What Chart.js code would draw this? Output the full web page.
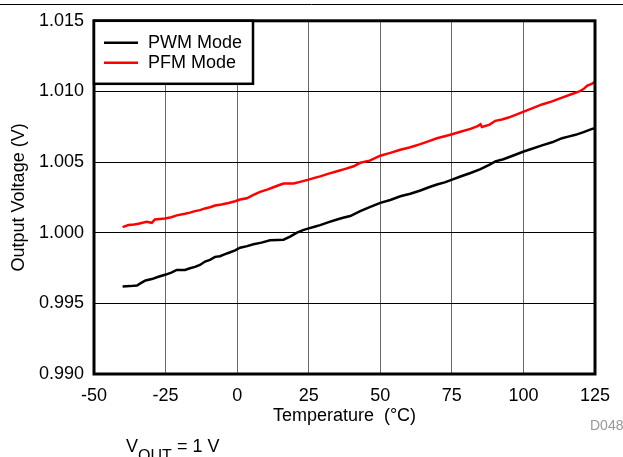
<!DOCTYPE html>
<html>
<head>
<meta charset="utf-8">
<script src="https://cdn.jsdelivr.net/npm/chart.js@4"></script>
<style>
  body { margin: 0; background: #fff; }
  #wrap { position: relative; width: 623px; height: 457px; overflow: hidden; }
</style>
</head>
<body>
<div id="wrap"><canvas id="chart" width="623" height="457"></canvas></div>
<script>
// temperature (°C) / output voltage (V)
const pwmTemp = [-40, -37.5, -35, -33.5, -32, -29.8, -27.5, -25.2, -23, -21.1, -18.2, -16.5, -14.7, -13, -11.2, -9.5, -7.7, -6, -4.2, -2.4, -0.7, 1, 3.5, 5.7, 8.5, 11.5, 14, 16.2, 18.5, 20.9, 23, 25, 27, 29, 32, 34.9, 37, 39.5, 43, 46.3, 50, 53.5, 57, 60.5, 64, 67, 69.8, 72.5, 75.1, 78, 81.5, 85, 88.2, 90.2, 93, 96, 100.1, 103, 106.5, 110, 113.5, 116, 118.2, 121, 124, 125];
const pwmVolt = [0.99620, 0.99622, 0.99626, 0.99645, 0.99662, 0.99672, 0.99688, 0.99702, 0.99718, 0.99737, 0.99737, 0.99748, 0.99758, 0.99772, 0.99796, 0.99808, 0.99829, 0.99834, 0.99848, 0.99862, 0.99875, 0.99894, 0.99905, 0.99918, 0.99930, 0.99946, 0.99949, 0.99951, 0.99972, 1.00000, 1.00018, 1.00031, 1.00042, 1.00054, 1.00075, 1.00094, 1.00106, 1.00118, 1.00153, 1.00181, 1.00211, 1.00232, 1.00258, 1.00276, 1.00299, 1.00322, 1.00341, 1.00356, 1.00376, 1.00398, 1.00423, 1.00450, 1.00482, 1.00505, 1.00520, 1.00543, 1.00575, 1.00594, 1.00618, 1.00640, 1.00669, 1.00682, 1.00693, 1.00712, 1.00735, 1.00740];

const pfmTemp = [-40, -38, -36, -34.5, -31.6, -29.8, -28.7, -25.2, -23, -21.1, -18.2, -16.5, -14.7, -13, -11.2, -9.5, -7.7, -5.5, -3, -0.7, 1, 3.4, 5.7, 8, 10.5, 12.7, 14.5, 16.2, 19.7, 22, 25, 27, 29, 32, 34.9, 37.5, 40.7, 43, 46.3, 50, 53.5, 57, 60.5, 64, 67, 69.8, 72.5, 75.1, 78, 81.5, 84, 85, 85.5, 88.2, 90.2, 92.5, 94.8, 97.5, 100.1, 103, 106.5, 110, 113.5, 116.5, 119.3, 121, 122.2, 124, 125];
const pfmVolt = [1.00040, 1.00054, 1.00058, 1.00063, 1.00077, 1.00070, 1.00094, 1.00101, 1.00110, 1.00123, 1.00134, 1.00142, 1.00153, 1.00160, 1.00172, 1.00180, 1.00193, 1.00200, 1.00211, 1.00223, 1.00235, 1.00244, 1.00268, 1.00289, 1.00305, 1.00322, 1.00336, 1.00348, 1.00348, 1.00360, 1.00376, 1.00388, 1.00399, 1.00418, 1.00435, 1.00450, 1.00470, 1.00495, 1.00510, 1.00545, 1.00565, 1.00587, 1.00605, 1.00627, 1.00648, 1.00669, 1.00683, 1.00697, 1.00715, 1.00735, 1.00755, 1.00768, 1.00748, 1.00765, 1.00792, 1.00802, 1.00815, 1.00836, 1.00857, 1.00880, 1.00908, 1.00930, 1.00956, 1.00978, 1.00998, 1.01017, 1.01040, 1.01056, 1.01068];

const seriesNames = ["PWM Mode", "PFM Mode"];
const seriesColors = ["#000000", "#ff0000"];

const FONT = "Arial, 'Liberation Sans', sans-serif";
const FONT_SIZE = 18;

function toPoints(xs, ys) {
  return xs.map((x, i) => ({ x: x, y: ys[i] }));
}

// frame, legend box, footnotes
const decorations = {
  id: "decorations",
  afterDraw(chart) {
    const ctx = chart.ctx;
    const a = chart.chartArea;
    ctx.save();

    // top rule
    ctx.strokeStyle = "#000";
    ctx.lineWidth = 1;
    ctx.beginPath();
    ctx.moveTo(0, 4.5);
    ctx.lineTo(623, 4.5);
    ctx.stroke();

    // plot frame
    ctx.lineWidth = 3;
    ctx.strokeRect(a.left, a.top, a.right - a.left, a.bottom - a.top);

    // legend
    ctx.fillStyle = "#fff";
    ctx.fillRect(a.left, a.top, 159, 63);
    ctx.lineWidth = 2.5;
    ctx.strokeRect(a.left, a.top, 159, 63);
    ctx.font = FONT_SIZE + "px " + FONT;
    ctx.textBaseline = "middle";
    seriesNames.forEach((name, i) => {
      const y = a.top + 22 + i * 20;
      ctx.strokeStyle = seriesColors[i];
      ctx.lineWidth = 2.5;
      ctx.beginPath();
      ctx.moveTo(a.left + 10, y);
      ctx.lineTo(a.left + 44, y);
      ctx.stroke();
      ctx.fillStyle = "#000";
      ctx.fillText(name, a.left + 54, y);
    });

    // figure id
    ctx.fillStyle = "#999";
    ctx.font = "14px " + FONT;
    ctx.textBaseline = "alphabetic";
    ctx.fillText("D048", 590, 430);

    // condition note
    ctx.fillStyle = "#000";
    ctx.font = FONT_SIZE + "px " + FONT;
    ctx.fillText("V", 126, 452);
    ctx.font = "16px " + FONT;
    ctx.fillText("OUT", 138, 461);
    ctx.font = FONT_SIZE + "px " + FONT;
    ctx.fillText("= 1 V", 177, 452);

    ctx.restore();
  }
};

new Chart(document.getElementById("chart"), {
  type: "scatter",
  data: {
    datasets: [
      {
        label: seriesNames[0],
        data: toPoints(pwmTemp, pwmVolt),
        showLine: true,
        borderColor: seriesColors[0],
        borderWidth: 2.5,
        pointRadius: 0,
        tension: 0
      },
      {
        label: seriesNames[1],
        data: toPoints(pfmTemp, pfmVolt),
        showLine: true,
        borderColor: seriesColors[1],
        borderWidth: 2.5,
        pointRadius: 0,
        tension: 0
      }
    ]
  },
  options: {
    responsive: false,
    animation: false,
    layout: { padding: { top: 19, right: 28, bottom: 0, left: 0 } },
    plugins: { legend: { display: false }, tooltip: { enabled: false } },
    scales: {
      x: {
        type: "linear",
        min: -50,
        max: 125,
        afterFit: (s) => { s.height = 83; },
        ticks: {
          stepSize: 25,
          color: "#000",
          font: { family: FONT, size: FONT_SIZE },
          padding: 11,
          maxRotation: 0
        },
        grid: { color: "#6a6a6a", lineWidth: 1, drawTicks: false },
        border: { display: false },
        title: {
          display: true,
          text: "Temperature  (°C)",
          color: "#000",
          font: { family: FONT, size: FONT_SIZE },
          padding: { top: 0, bottom: 30 }
        }
      },
      y: {
        min: 0.99,
        max: 1.015,
        afterFit: (s) => { s.width = 94; },
        ticks: {
          stepSize: 0.005,
          color: "#000",
          font: { family: FONT, size: FONT_SIZE },
          padding: 10,
          callback: (v) => v.toFixed(3)
        },
        grid: { color: "#000", lineWidth: 1, drawTicks: false },
        border: { display: false },
        title: {
          display: true,
          text: "Output Voltage (V)",
          color: "#000",
          font: { family: FONT, size: FONT_SIZE },
          padding: { top: 8, bottom: 0 }
        }
      }
    }
  },
  plugins: [decorations]
});
</script>
</body>
</html>
